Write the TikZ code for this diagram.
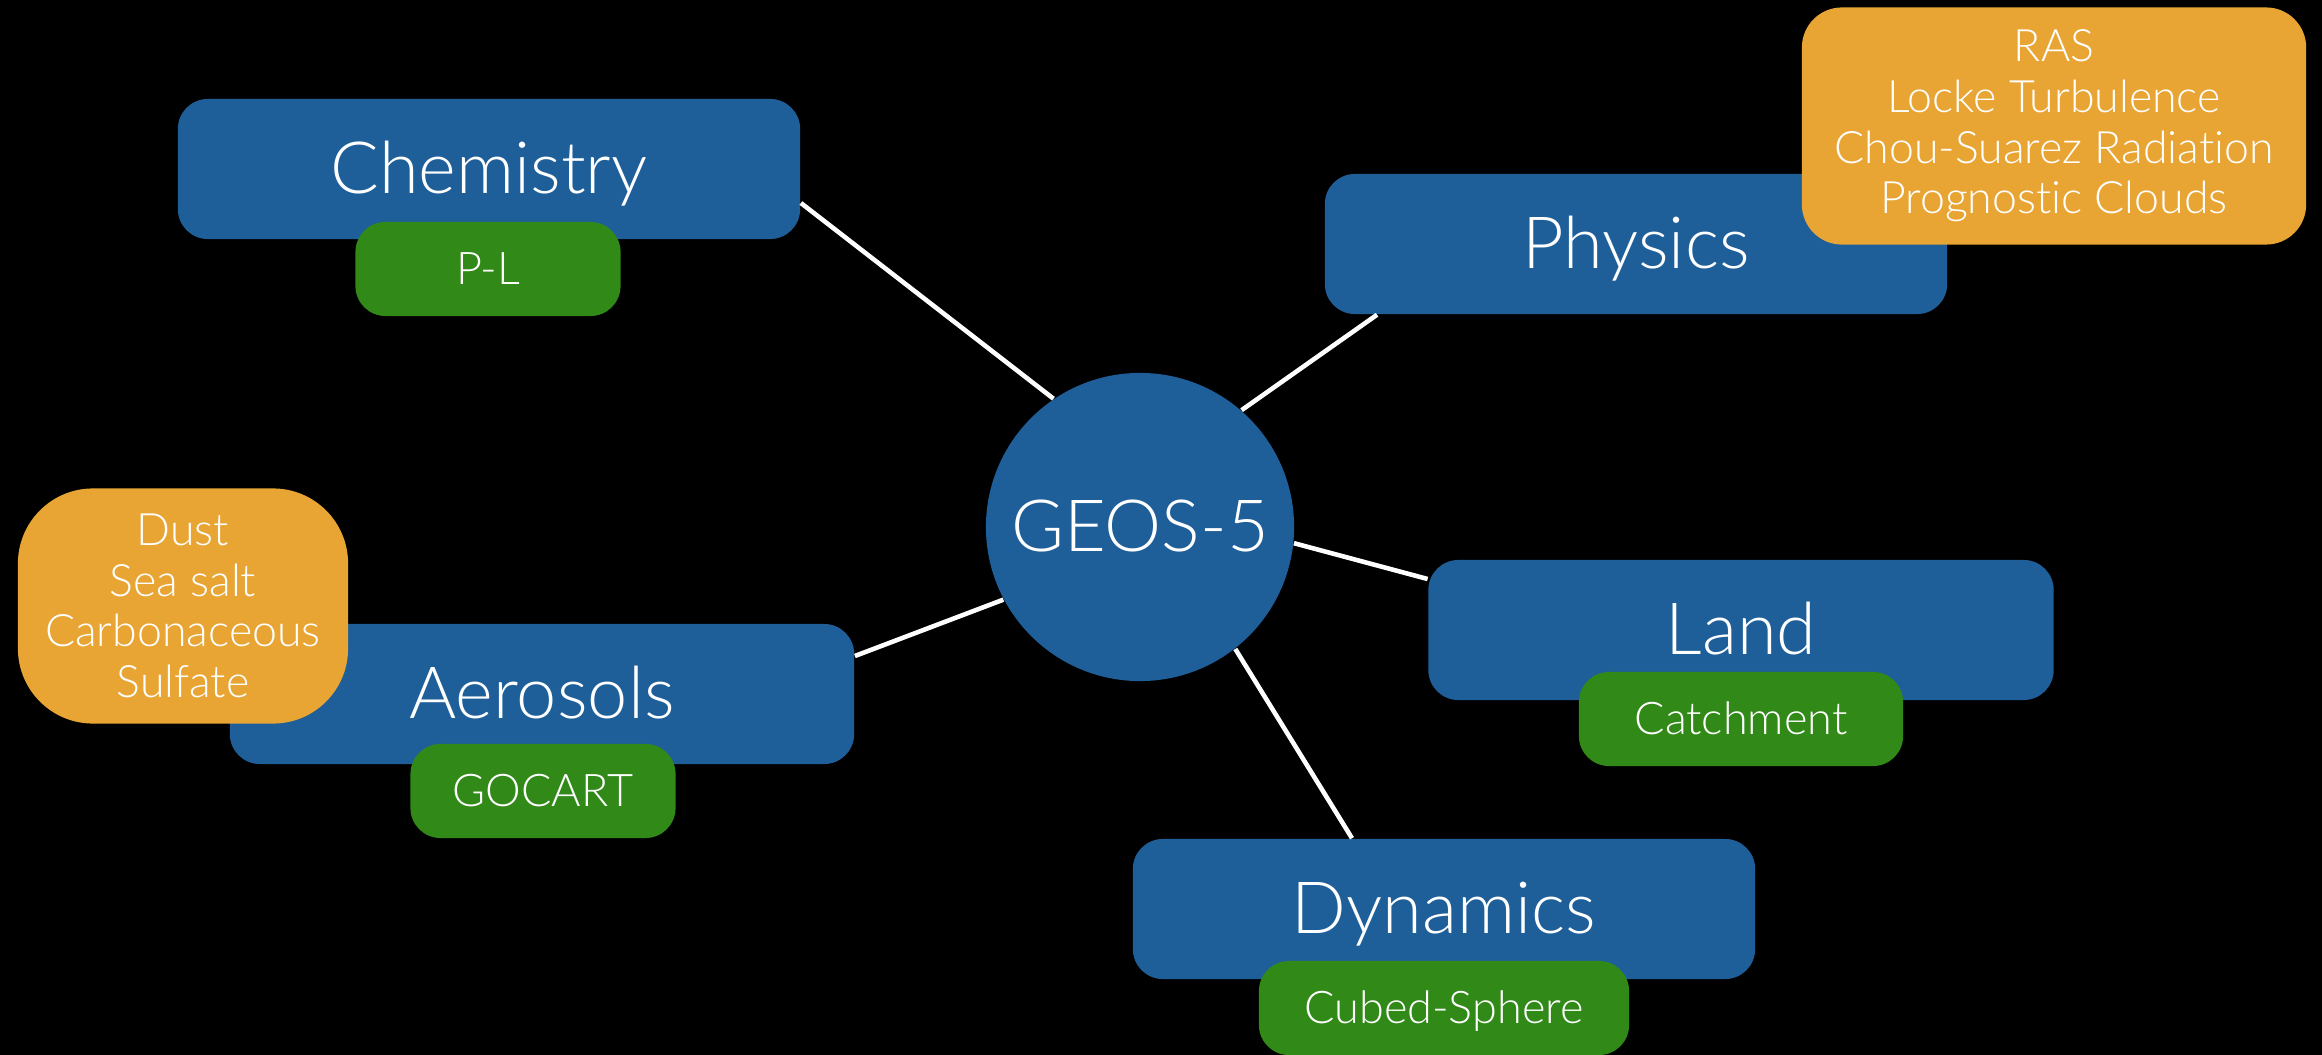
\documentclass[tikz,border=0pt]{standalone}
\usepackage{fontspec}
\setmainfont{Lato Light}[Ligatures=NoCommon]
\usetikzlibrary{calc}
\definecolor{boxblue}{RGB}{30,95,154}
\definecolor{boxgreen}{RGB}{49,137,24}
\definecolor{boxorange}{RGB}{232,165,52}
\tikzset{
  mainbox/.style={fill=boxblue, rounded corners=0.3cm, minimum width=6.22cm, minimum height=1.40cm, inner sep=0pt, text=white, text height=14pt, text depth=0pt, font=\fontsize{20.5}{24}\selectfont},
  subbox/.style={fill=boxgreen, rounded corners=0.3cm, minimum height=0.94cm, inner sep=0pt, text=white, text height=8.8pt, text depth=0pt, font=\fontsize{12.8}{15}\selectfont},
  notebox/.style={fill=boxorange, inner sep=0pt, text=white, align=center, font=\fontsize{12.7}{14.4}\selectfont},
  link/.style={draw=white, line width=1.3pt}
}
\begin{document}
\begin{tikzpicture}[x=0.01cm,y=-0.01cm]
\fill[black] (0,0) rectangle (2322,1055);
\useasboundingbox (0,0) rectangle (2322,1055);
% hub
\node[circle, fill=boxblue, minimum size=3.08cm, inner sep=0pt, text=white, text height=14pt, text depth=0pt, font=\fontsize{20.5}{24}\selectfont] (geos) at (1140,527) {GEOS-5};
% main boxes
\node[mainbox] (chem) at (489,169) {Chemistry};
\node[mainbox] (phys) at (1636,244) {Physics};
\node[mainbox, minimum width=6.24cm] (aer) at (542,694) {Aerosols};
\node[mainbox, minimum width=6.25cm] (land) at (1741,630) {Land};
\node[mainbox] (dyn) at (1444,909) {Dynamics};
% connectors
\coordinate (chemend) at ($(chem.east)+(0,34)$);
\coordinate (physend) at ($(phys.south)+(-259,0)$);
\coordinate (landend) at ($(land.west)+(0,-51)$);
\coordinate (dynend) at ($(dyn.north)+(-92,0)$);
\coordinate (aerend) at ($(aer.east)+(0,-38)$);
\draw[link] (geos.124.8) -- (chemend);
\draw[link] (geos.49.3) -- (physend);
\draw[link] (geos.-6.5) -- (landend);
\draw[link] (geos.-52.3) -- (dynend);
\draw[link] (geos.208) -- (aerend);
% sub boxes
\node[subbox, minimum width=2.65cm] (pl) at (488,269) {P-L};
\node[subbox, minimum width=2.65cm] (gocart) at (543,791) {GOCART};
\node[subbox, minimum width=3.24cm] (catch) at (1741,719) {Catchment};
\node[subbox, minimum width=3.70cm] (cubed) at (1444,1008) {Cubed-Sphere};
% notes
\node[notebox, rounded corners=0.4cm, minimum width=5.04cm, minimum height=2.37cm] (physnote) at (2054,126) {RAS\\Locke Turbulence\\Chou-Suarez Radiation\\Prognostic Clouds};
\node[notebox, rounded corners=0.75cm, minimum width=3.30cm, minimum height=2.35cm] (aernote) at (183,606) {Dust\\Sea salt\\Carbonaceous\\Sulfate};
\end{tikzpicture}
\end{document}
